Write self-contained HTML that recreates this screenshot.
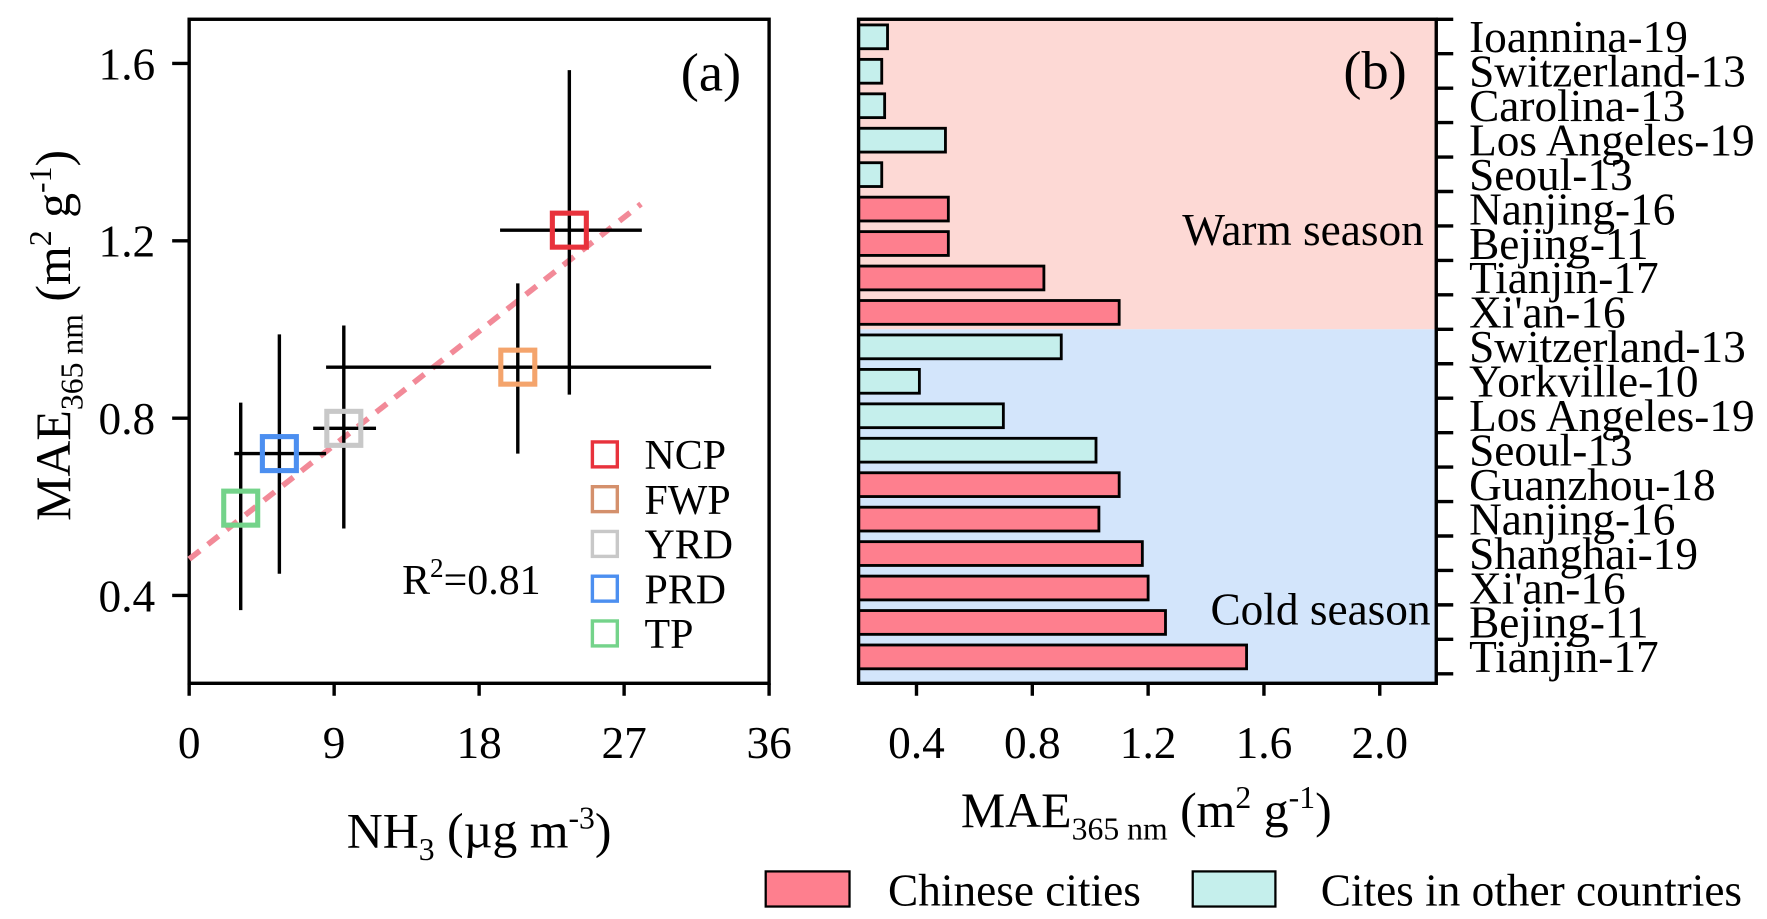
<!DOCTYPE html>
<html><head><meta charset="utf-8"><style>
html,body{margin:0;padding:0;background:#fff}
svg{display:block}
text{font-family:"Liberation Serif",serif;fill:#000}
</style></head><body>
<svg id="fig" width="1767" height="919" viewBox="0 0 1560 811" preserveAspectRatio="none" xmlns="http://www.w3.org/2000/svg">
<g id="pa"></g>
<g id="pb"></g>
</svg>
<script>
// Panel (a) data
const regions = ['NCP','FWP','YRD','PRD','TP'];
const nh3 = [23.6, 20.4, 9.6, 5.6, 3.2];
const nh3Lo = [19.3, 8.5, 7.7, 2.8, 3.2];
const nh3Hi = [28.1, 32.4, 11.6, 8.5, 3.2];
const mae = [1.224, 0.915, 0.777, 0.72, 0.597];
const maeLo = [0.853, 0.72, 0.551, 0.449, 0.367];
const maeHi = [1.585, 1.104, 1.009, 0.989, 0.835];
const xTicksA = [0, 9, 18, 27, 36];
const yTicksA = [0.4, 0.8, 1.2, 1.6];
const fitX = [0, 28.05];
const fitY = [0.482, 1.283];
// Panel (b) data
const cities = ['Ioannina-19','Switzerland-13','Carolina-13','Los Angeles-19','Seoul-13','Nanjing-16','Bejing-11','Tianjin-17',"Xi'an-16",'Switzerland-13','Yorkville-10','Los Angeles-19','Seoul-13','Guanzhou-18','Nanjing-16','Shanghai-19',"Xi'an-16",'Bejing-11','Tianjin-17'];
const maeB = [0.30,0.28,0.29,0.50,0.28,0.51,0.51,0.84,1.10,0.90,0.41,0.70,1.02,1.10,1.03,1.18,1.20,1.26,1.54];
const chinese = [0,0,0,0,0,1,1,1,1,0,0,0,0,1,1,1,1,1,1];
const xTicksB = [0.4, 0.8, 1.2, 1.6, 2.0];

const NS='http://www.w3.org/2000/svg';
function mk(parent, tag, attrs, txt){const e=document.createElementNS(NS,tag);for(const k in attrs)e.setAttribute(k,attrs[k]);if(txt!==undefined)e.textContent=txt;parent.appendChild(e);return e;}
const colors=['#e8323c','#f4a46c','#c8c8c8','#4c8ff0','#74d38a'];
const legColors=['#e8323c','#d4906c','#c8c8c8','#4c8ff0','#74d38a'];

// ---- Panel a
const pa=document.getElementById('pa');
const ax=v=>167+(v-0)/36*512;
const ay=v=>56+(1.6-v)/0.4*156.5;
mk(pa,'rect',{x:167,y:17,width:512,height:586,fill:'none',stroke:'#000','stroke-width':3});
xTicksA.forEach(t=>{
  const l=mk(pa,'line',{x1:ax(t),x2:ax(t),y1:603,y2:614,stroke:'#000','stroke-width':3});
  
  const tx=mk(pa,'text',{x:ax(t),y:669,'font-size':40,'text-anchor':'middle'},String(t));
  
});
yTicksA.forEach(t=>{
  const l=mk(pa,'line',{x1:152,x2:167,y1:ay(t),y2:ay(t),stroke:'#000','stroke-width':3});
  
  const tx=mk(pa,'text',{x:137,y:ay(t)+14,'font-size':40,'text-anchor':'end'},t.toFixed(1));
  
});
const fit=mk(pa,'line',{x1:ax(fitX[0]),y1:ay(fitY[0]),x2:ax(fitX[1]),y2:ay(fitY[1]),stroke:'#f28a98','stroke-width':5,'stroke-dasharray':'12 9'});

regions.forEach((r,i)=>{
  const g=mk(pa,'g',{});
  
  mk(g,'line',{x1:ax(nh3Lo[i]),x2:ax(nh3Hi[i]),y1:ay(mae[i]),y2:ay(mae[i]),stroke:'#000','stroke-width':3});
  mk(g,'line',{x1:ax(nh3[i]),x2:ax(nh3[i]),y1:ay(maeLo[i]),y2:ay(maeHi[i]),stroke:'#000','stroke-width':3});
  mk(g,'rect',{x:ax(nh3[i])-15,y:ay(mae[i])-15,width:30,height:30,fill:'none',stroke:colors[i],'stroke-width':4.5});
  const ly=401+i*39.5;
  const lg=mk(pa,'g',{});
  
  mk(lg,'rect',{x:523,y:ly-11,width:22,height:22,fill:'none',stroke:legColors[i],'stroke-width':3});
  mk(lg,'text',{x:569,y:ly+13,'font-size':37},r);
});
let t;
t=mk(pa,'text',{x:355,y:524,'font-size':37});t.innerHTML='R<tspan dy="-15" font-size="24">2</tspan><tspan dy="15">=0.81</tspan>';

t=mk(pa,'text',{x:601,y:80,'font-size':48},'(a)');
t=mk(pa,'text',{x:0,y:0,'font-size':44,transform:'translate(62,296) rotate(-90)','text-anchor':'middle'});
t.innerHTML='MAE<tspan dy="11" font-size="28">365 nm</tspan><tspan dy="-11"> (m</tspan><tspan dy="-17" font-size="28">2</tspan><tspan dy="17"> g</tspan><tspan dy="-17" font-size="28">-1</tspan><tspan dy="17">)</tspan>';

t=mk(pa,'text',{x:423,y:748,'font-size':44,'text-anchor':'middle'});
t.innerHTML='NH<tspan dy="11" font-size="28">3</tspan><tspan dy="-11"> (µg m</tspan><tspan dy="-17" font-size="28">-3</tspan><tspan dy="17">)</tspan>';


// ---- Panel b
const pb=document.getElementById('pb');
const bx=v=>758+(v-0.2)/0.4*102.25;
const rowY=i=>17+30.4*i;
const bg1=mk(pb,'rect',{x:758,y:17,width:510,height:rowY(9)-17,fill:'#fdd9d5'});

const bg2=mk(pb,'rect',{x:758,y:rowY(9),width:510,height:603-rowY(9),fill:'#d3e5fb'});

cities.forEach((c,i)=>{
  const b=mk(pb,'rect',{x:758,y:rowY(i)+5,width:bx(maeB[i])-758,height:21,fill:chinese[i]?'#fe7f8e':'#c5efec',stroke:'#000','stroke-width':2.5});
  
  const l=mk(pb,'text',{x:1297,y:rowY(i)+29,'font-size':40},c);
  
});
for(let k=0;k<=19;k++){
  const l=mk(pb,'line',{x1:1268,x2:1283,y1:rowY(k),y2:rowY(k),stroke:'#000','stroke-width':3});
  
}
mk(pb,'rect',{x:758,y:17,width:510,height:586,fill:'none',stroke:'#000','stroke-width':3});
xTicksB.forEach(v=>{
  const l=mk(pb,'line',{x1:bx(v),x2:bx(v),y1:603,y2:614,stroke:'#000','stroke-width':3});
  
  const tx=mk(pb,'text',{x:bx(v),y:669,'font-size':40,'text-anchor':'middle'},v.toFixed(1));
  
});
t=mk(pb,'text',{x:1257,y:216,'font-size':40,'text-anchor':'end'},'Warm season');
t=mk(pb,'text',{x:1263,y:551,'font-size':40,'text-anchor':'end'},'Cold season');
t=mk(pb,'text',{x:1186,y:78,'font-size':48},'(b)');
t=mk(pb,'text',{x:1012,y:730,'font-size':44,'text-anchor':'middle'});
t.innerHTML='MAE<tspan dy="11" font-size="28">365 nm</tspan><tspan dy="-11"> (m</tspan><tspan dy="-17" font-size="28">2</tspan><tspan dy="17"> g</tspan><tspan dy="-17" font-size="28">-1</tspan><tspan dy="17">)</tspan>';

let lg=mk(pb,'g',{});
mk(lg,'rect',{x:676,y:769,width:74,height:31,fill:'#fe7f8e',stroke:'#000','stroke-width':2});
mk(lg,'text',{x:784,y:799,'font-size':40},'Chinese cities');
lg=mk(pb,'g',{});
mk(lg,'rect',{x:1053,y:769,width:73,height:31,fill:'#c5efec',stroke:'#000','stroke-width':2});
mk(lg,'text',{x:1166,y:799,'font-size':40},'Cites in other countries');
</script>
</body></html>
